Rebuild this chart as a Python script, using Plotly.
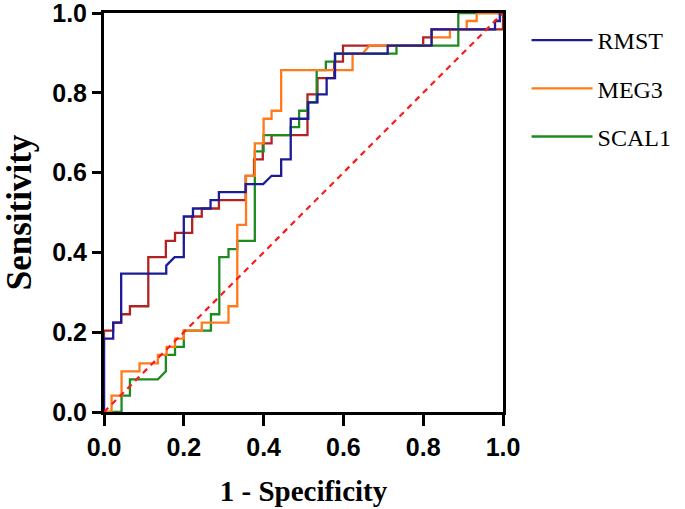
import plotly.graph_objects as go

# ROC curve points (1 - specificity, sensitivity)
rmst_x = [0, 0, 0.023, 0.023, 0.043, 0.043, 0.156, 0.156, 0.177, 0.2, 0.2, 0.223, 0.223, 0.267, 0.267,
          0.288, 0.288, 0.355, 0.355, 0.399, 0.42, 0.444, 0.444, 0.468, 0.468, 0.512, 0.512, 0.535,
          0.535, 0.558, 0.558, 0.579, 0.579, 0.711, 0.711, 0.821, 0.821, 0.98, 0.98, 0.992, 0.992, 1]
rmst_y = [0, 0.184, 0.184, 0.224, 0.224, 0.347, 0.347, 0.367, 0.388, 0.388, 0.49, 0.49, 0.51, 0.51, 0.531,
          0.531, 0.551, 0.551, 0.571, 0.571, 0.592, 0.592, 0.633, 0.633, 0.735, 0.735, 0.776, 0.776,
          0.796, 0.796, 0.837, 0.837, 0.898, 0.898, 0.918, 0.918, 0.959, 0.959, 0.98, 0.98, 1, 1]

meg3_x = [0, 0.019, 0.019, 0.044, 0.044, 0.089, 0.089, 0.135, 0.135, 0.157, 0.157, 0.178, 0.178, 0.2,
          0.2, 0.245, 0.245, 0.312, 0.312, 0.334, 0.334, 0.356, 0.356, 0.378, 0.378, 0.4, 0.4, 0.42,
          0.42, 0.444, 0.444, 0.623, 0.623, 0.648, 0.665, 0.821, 0.821, 0.867, 0.867, 0.909, 0.909,
          0.934, 0.934, 1]
meg3_y = [0, 0, 0.041, 0.041, 0.102, 0.102, 0.122, 0.122, 0.143, 0.143, 0.163, 0.163, 0.184, 0.184,
          0.204, 0.204, 0.224, 0.224, 0.265, 0.265, 0.469, 0.469, 0.592, 0.592, 0.673, 0.673, 0.735,
          0.735, 0.755, 0.755, 0.857, 0.857, 0.898, 0.898, 0.918, 0.918, 0.939, 0.939, 0.959, 0.959,
          0.98, 0.98, 1, 1]

scal1_x = [0, 0.044, 0.044, 0.065, 0.065, 0.135, 0.155, 0.155, 0.178, 0.178, 0.2, 0.2, 0.268, 0.268,
           0.289, 0.289, 0.312, 0.312, 0.334, 0.334, 0.378, 0.378, 0.4, 0.4, 0.468, 0.468, 0.489, 0.489,
           0.51, 0.51, 0.533, 0.533, 0.556, 0.556, 0.579, 0.579, 0.733, 0.733, 0.888, 0.888, 1]
scal1_y = [0, 0, 0.041, 0.041, 0.082, 0.082, 0.102, 0.143, 0.143, 0.163, 0.163, 0.204, 0.204, 0.245,
           0.245, 0.388, 0.388, 0.408, 0.408, 0.429, 0.429, 0.653, 0.653, 0.694, 0.694, 0.714, 0.714,
           0.755, 0.755, 0.776, 0.776, 0.857, 0.857, 0.878, 0.878, 0.898, 0.898, 0.918, 0.918, 1, 1]

# fourth (unlabelled) curve
other_x = [0, 0, 0.023, 0.023, 0.043, 0.043, 0.065, 0.065, 0.111, 0.111, 0.155, 0.155, 0.178, 0.178,
           0.221, 0.221, 0.245, 0.245, 0.288, 0.288, 0.355, 0.355, 0.376, 0.376, 0.398, 0.398, 0.42,
           0.42, 0.51, 0.51, 0.535, 0.535, 0.577, 0.577, 0.599, 0.599, 0.8, 0.8, 0.821, 0.821, 1, 1]
other_y = [0, 0.204, 0.204, 0.224, 0.224, 0.245, 0.245, 0.265, 0.265, 0.388, 0.388, 0.429, 0.429,
           0.449, 0.449, 0.49, 0.49, 0.51, 0.51, 0.531, 0.531, 0.592, 0.592, 0.633, 0.633, 0.673,
           0.673, 0.694, 0.694, 0.796, 0.796, 0.837, 0.837, 0.878, 0.878, 0.918, 0.918, 0.939, 0.939,
           0.959, 0.959, 1]

ref_x = [0, 1]
ref_y = [0, 1]

tick_vals = [0, 0.2, 0.4, 0.6, 0.8, 1.0]
tick_text = ["0.0", "0.2", "0.4", "0.6", "0.8", "1.0"]

fig = go.Figure()
fig.add_trace(go.Scatter(x=other_x, y=other_y, mode="lines", line=dict(color="#b22222", width=2.3),
                         showlegend=False, hoverinfo="skip"))
fig.add_trace(go.Scatter(x=scal1_x, y=scal1_y, mode="lines", name="SCAL1", legendgroup="c", legendrank=3,
                         line=dict(color="#1f8a1f", width=2.3)))
fig.add_trace(go.Scatter(x=meg3_x, y=meg3_y, mode="lines", name="MEG3", legendgroup="b", legendrank=2,
                         line=dict(color="#ff7a1a", width=2.3)))
fig.add_trace(go.Scatter(x=rmst_x, y=rmst_y, mode="lines", name="RMST", legendgroup="a", legendrank=1,
                         line=dict(color="#1c1c96", width=2.3)))
fig.add_trace(go.Scatter(x=ref_x, y=ref_y, mode="lines", showlegend=False,
                         line=dict(color="#ff1a1a", width=2.2, dash="6px,5px")))

tickfont = dict(family="Liberation Sans, Arial", size=25, color="black", weight="bold")
serif = "Liberation Serif, Times New Roman, serif"

fig.update_xaxes(range=[0, 1], tickvals=tick_vals, ticktext=tick_text, showgrid=False, zeroline=False,
                 showline=True, linecolor="black", linewidth=3, mirror=True, automargin=False,
                 ticks="outside", ticklen=11, tickwidth=3, tickcolor="black",
                 tickfont=tickfont, ticklabeloverflow="allow",
                 title=dict(text="1 - Specificity", font=dict(family=serif, size=29, color="black",
                                                              weight="bold"), standoff=21))
fig.update_yaxes(range=[0, 1], tickvals=tick_vals, ticktext=tick_text, showgrid=False, zeroline=False,
                 showline=True, linecolor="black", linewidth=3, mirror=True, automargin=False,
                 ticks="outside", ticklen=9, tickwidth=3, tickcolor="black",
                 tickfont=tickfont, ticklabeloverflow="allow",
                 title=dict(text="Sensitivity", font=dict(family=serif, size=35, color="black",
                                                          weight="bold"), standoff=25))

fig.update_layout(
    width=685, height=509,
    margin=dict(l=104, r=182, t=13, b=97, autoexpand=False),
    paper_bgcolor="white", plot_bgcolor="white",
    legend=dict(x=1.059, y=0.9875, xanchor="left", yanchor="top", tracegroupgap=14,
                font=dict(family=serif, size=24, color="black"),
                bgcolor="rgba(0,0,0,0)", itemwidth=61),
)

fig.write_html("out.html", config={"displayModeBar": False},
               post_script="document.body.style.margin='0';")
